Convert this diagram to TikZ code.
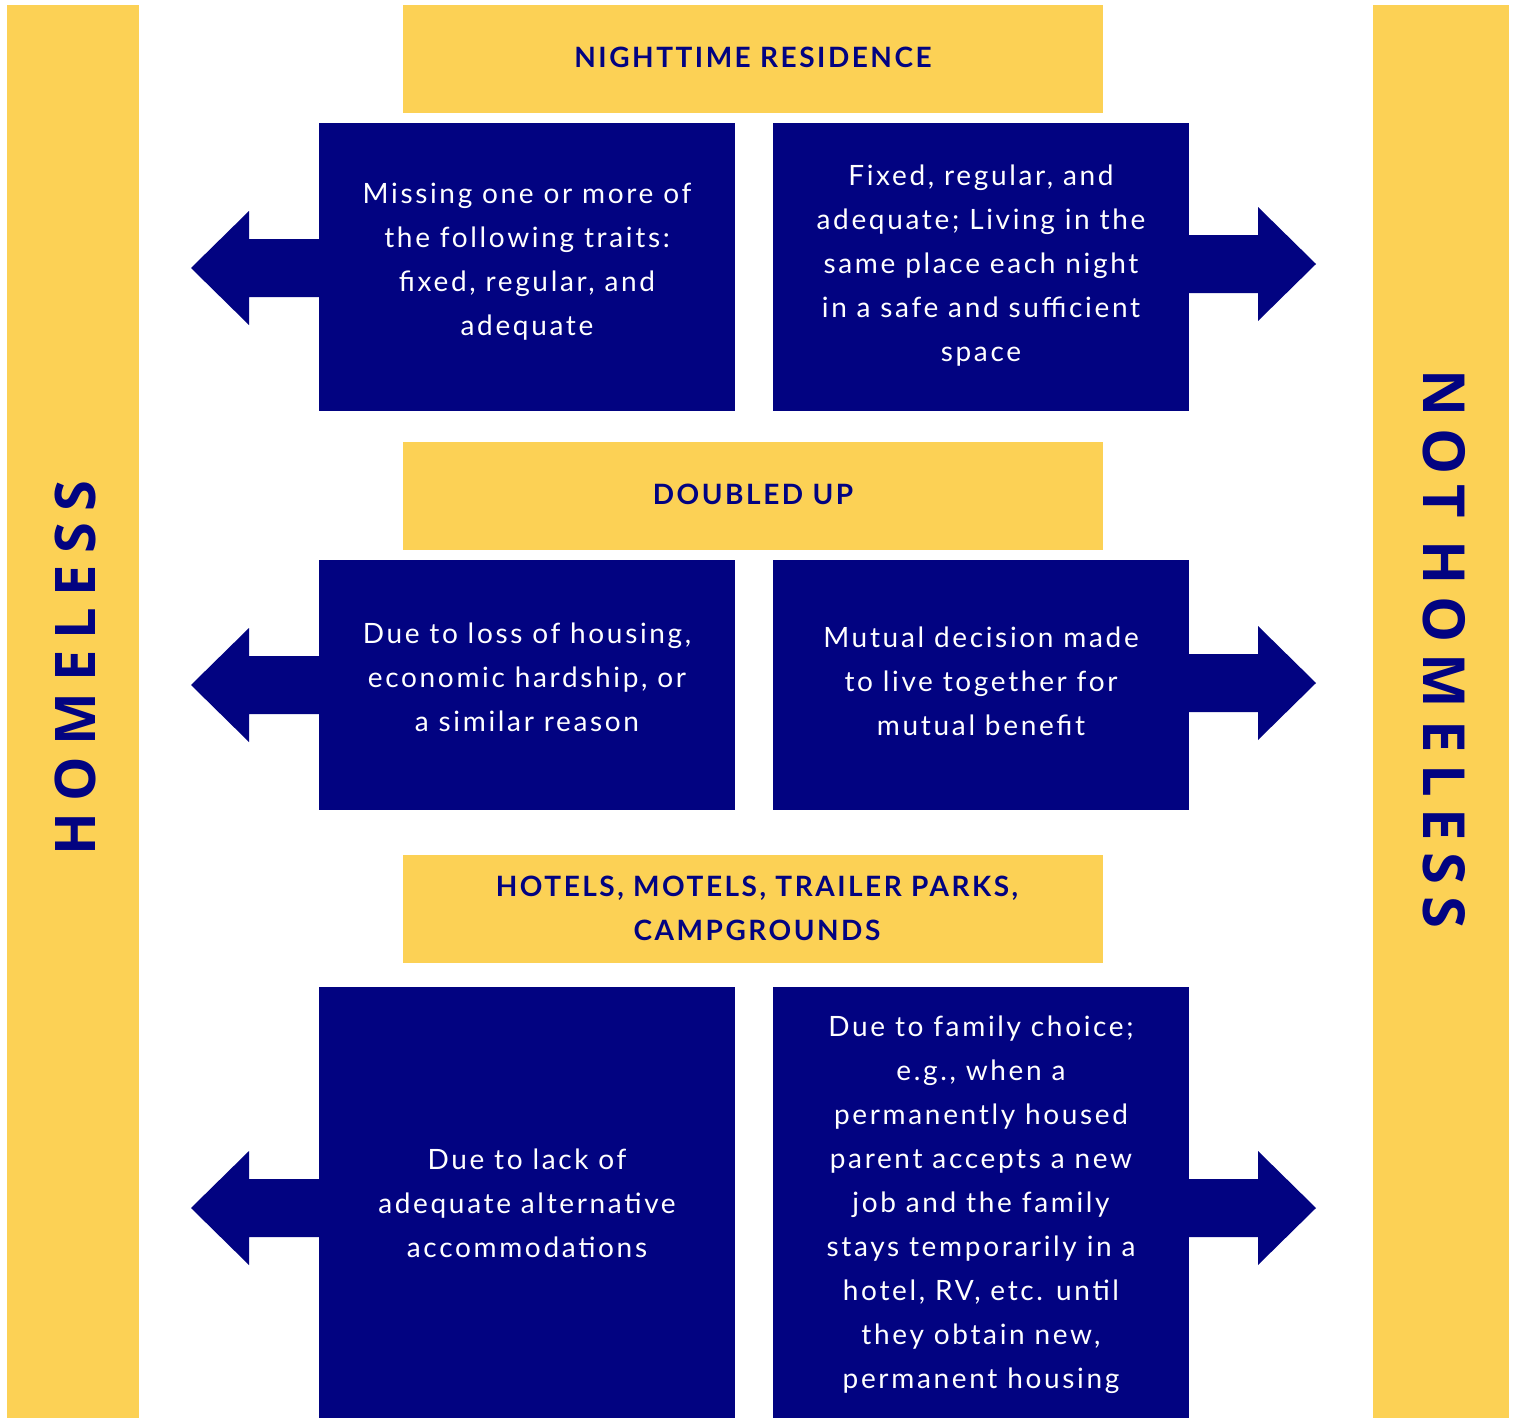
\documentclass[tikz,border=0pt]{standalone}
\usepackage{fontspec}
\setmainfont{Lato}
\newfontfamily\bodyfont{Lato}[LetterSpace=9.5]
\newfontfamily\headfont{Lato}[LetterSpace=9]
\newfontfamily\sidefont{Open Sans}[LetterSpace=20]
\definecolor{navy}{RGB}{2,3,129}
\definecolor{gold}{RGB}{252,209,85}
\tikzset{
  goldbar/.style={fill=gold, draw=none},
  navybox/.style={fill=navy, draw=none},
  arrowshape/.style={fill=navy, draw=none},
  bodytext/.style={text=white, align=center, inner sep=0pt, font=\bodyfont\fontsize{28}{44}\selectfont},
  headtext/.style={text=navy, align=center, inner sep=0pt, font=\headfont\bfseries\fontsize{28}{44}\selectfont},
  sidetext/.style={text=navy, inner sep=0pt, font=\sidefont\bfseries\fontsize{56}{60}\selectfont},
}
\begin{document}
\begin{tikzpicture}[x=1pt,y=-1pt]
\useasboundingbox (0,0) rectangle (1516,1418);
% side bars
\fill[goldbar] (7,5) rectangle (139,1418);
\fill[goldbar] (1373,5) rectangle (1509,1418);
\node[sidetext, rotate=90] (homeless) at (75,668) {HOMELESS};
\node[sidetext, rotate=-90, font=\sidefont\bfseries\fontsize{58}{60}\selectfont] (nothomeless) at (1444,649) {NOT\hspace{22pt}HOMELESS};
% headers
\fill[goldbar] (403,5) rectangle (1103,113);
\node[headtext] (h1) at (753,57) {NIGHTTIME RESIDENCE};
\fill[goldbar] (403,442) rectangle (1103,550);
\node[headtext] (h2) at (753,494) {DOUBLED UP};
\fill[goldbar] (403,855) rectangle (1103,963);
\node[headtext] (h3) at (757,908) {HOTELS, MOTELS, TRAILER PARKS,\\CAMPGROUNDS};
% boxes row 1
\fill[navybox] (319,123) rectangle (735,411);
\fill[navybox] (773,123) rectangle (1189,411);
\node[bodytext] (l1) at (527,262) {Missing one or more of\\the following traits:\\fixed, regular, and\\adequate};
\node[bodytext] (r1) at (981,266) {Fixed, regular, and\\adequate; Living in the\\same place each night\\in a safe and sufficient\\space};
% boxes row 2
\fill[navybox] (319,560) rectangle (735,810);
\fill[navybox] (773,560) rectangle (1189,810);
\node[bodytext] (l2) at (527,677) {Due to loss of housing,\\economic hardship, or\\a similar reason};
\node[bodytext] (r2) at (981,681) {Mutual decision made\\to live together for\\mutual benefit};
% boxes row 3
\fill[navybox] (319,987) rectangle (735,1418);
\fill[navybox] (773,987) rectangle (1189,1418);
\node[bodytext] (l3) at (527,1203) {Due to lack of\\adequate alternative\\accommodations};
\node[bodytext] (r3) at (981,1205) {Due to family choice;\\e.g., when a\\permanently housed\\parent accepts a new\\job and the family\\stays temporarily in a\\hotel, RV, etc. until\\they obtain new,\\permanent housing};
% arrows left
\fill[arrowshape] (320,239) -- (249,239) -- (249,211) -- (191,268) -- (249,325) -- (249,297) -- (320,297) -- cycle;
\fill[arrowshape] (320,656) -- (249,656) -- (249,628) -- (191,685) -- (249,742) -- (249,714) -- (320,714) -- cycle;
\fill[arrowshape] (320,1179) -- (249,1179) -- (249,1151) -- (191,1208) -- (249,1265) -- (249,1237) -- (320,1237) -- cycle;
% arrows right
\fill[arrowshape] (1188,235) -- (1258,235) -- (1258,207) -- (1316,264) -- (1258,321) -- (1258,293) -- (1188,293) -- cycle;
\fill[arrowshape] (1188,654) -- (1258,654) -- (1258,626) -- (1316,683) -- (1258,740) -- (1258,712) -- (1188,712) -- cycle;
\fill[arrowshape] (1188,1179) -- (1258,1179) -- (1258,1151) -- (1316,1208) -- (1258,1265) -- (1258,1237) -- (1188,1237) -- cycle;
\end{tikzpicture}
\end{document}
